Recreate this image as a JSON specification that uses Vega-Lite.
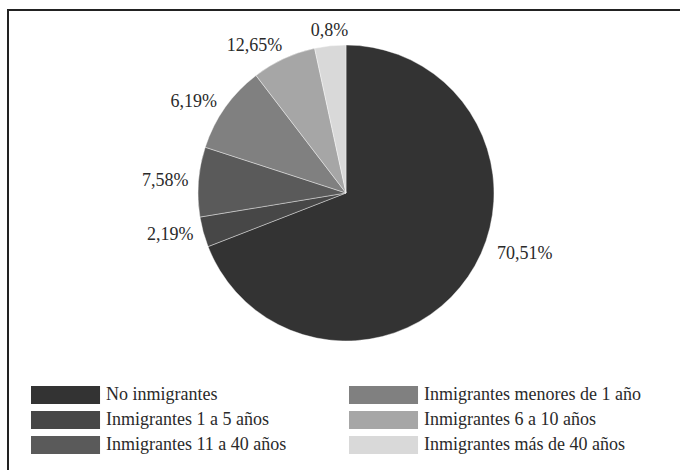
{
  "$schema": "https://vega.github.io/schema/vega-lite/v6.json",
  "width": 700,
  "height": 500,
  "autosize": {"type": "none"},
  "padding": {"left": 8, "top": 10, "right": 0, "bottom": 0},
  "background": "white",
  "config": {
    "view": {"stroke": null},
    "font": "Liberation Serif",
    "text": {"font": "Liberation Serif", "fontSize": 18, "color": "#2a2a2a"}
  },
  "data": {
    "values": [
      {"grupo": "No inmigrantes", "valor": 69.1, "etiqueta": "70,51%", "orden": 1},
      {"grupo": "Inmigrantes 1 a 5 años", "valor": 3.3, "etiqueta": "2,19%", "orden": 2},
      {"grupo": "Inmigrantes 11 a 40 años", "valor": 7.6, "etiqueta": "7,58%", "orden": 3},
      {"grupo": "Inmigrantes menores de 1 año", "valor": 9.6, "etiqueta": "6,19%", "orden": 4},
      {"grupo": "Inmigrantes 6 a 10 años", "valor": 7.0, "etiqueta": "12,65%", "orden": 5},
      {"grupo": "Inmigrantes más de 40 años", "valor": 3.4, "etiqueta": "0,8%", "orden": 6}
    ]
  },
  "layer": [
    {
      "data": {"values": [{"marco": 1}]},
      "mark": {"type": "rect", "fill": null, "stroke": "#222222", "strokeWidth": 2},
      "encoding": {}
    },
    {
      "mark": {"type": "arc", "outerRadius": 148, "x": 338, "y": 183, "stroke": "#ffffff", "strokeWidth": 0.4},
      "encoding": {
        "theta": {"field": "valor", "type": "quantitative", "stack": true},
        "order": {"field": "orden", "type": "quantitative"},
        "color": {
          "field": "grupo",
          "type": "nominal",
          "scale": {
            "domain": ["No inmigrantes", "Inmigrantes 1 a 5 años", "Inmigrantes 11 a 40 años", "Inmigrantes menores de 1 año", "Inmigrantes 6 a 10 años", "Inmigrantes más de 40 años"],
            "range": ["#333333", "#474747", "#5a5a5a", "#808080", "#a6a6a6", "#d9d9d9"]
          },
          "legend": {
            "title": null,
            "orient": "none",
            "legendX": 23,
            "legendY": 376,
            "columns": 2,
            "columnPadding": 62,
            "rowPadding": 7,
            "padding": 0,
            "symbolType": "M-1,-1L6.67,-1L6.67,1L-1,1Z",
            "symbolSize": 324,
            "symbolStrokeWidth": 0,
            "symbolOpacity": 1,
            "labelFont": "Liberation Serif",
            "labelFontSize": 18,
            "labelColor": "#2a2a2a",
            "labelOffset": 57,
            "labelLimit": 400
          }
        }
      }
    },
    {
      "mark": {"type": "text", "x": 338, "y": 183, "radius": 163, "align": "left", "baseline": "middle", "thetaOffset": -0.215},
      "encoding": {
        "theta": {"field": "valor", "type": "quantitative", "stack": true},
        "order": {"field": "orden", "type": "quantitative"},
        "text": {"condition": {"test": "datum.orden == 1", "field": "etiqueta"}, "value": ""}
      }
    },
    {
      "mark": {"type": "text", "x": 338, "y": 183, "radius": 158, "align": "right", "baseline": "middle"},
      "encoding": {
        "theta": {"field": "valor", "type": "quantitative", "stack": true},
        "order": {"field": "orden", "type": "quantitative"},
        "text": {"condition": {"test": "datum.orden >= 2 && datum.orden <= 4", "field": "etiqueta"}, "value": ""}
      }
    },
    {
      "mark": {"type": "text", "x": 338, "y": 183, "radius": 152, "align": "right", "baseline": "bottom"},
      "encoding": {
        "theta": {"field": "valor", "type": "quantitative", "stack": true},
        "order": {"field": "orden", "type": "quantitative"},
        "text": {"condition": {"test": "datum.orden == 5", "field": "etiqueta"}, "value": ""}
      }
    },
    {
      "mark": {"type": "text", "x": 338, "y": 183, "radius": 154, "align": "center", "baseline": "bottom"},
      "encoding": {
        "theta": {"field": "valor", "type": "quantitative", "stack": true},
        "order": {"field": "orden", "type": "quantitative"},
        "text": {"condition": {"test": "datum.orden == 6", "field": "etiqueta"}, "value": ""}
      }
    }
  ]
}
